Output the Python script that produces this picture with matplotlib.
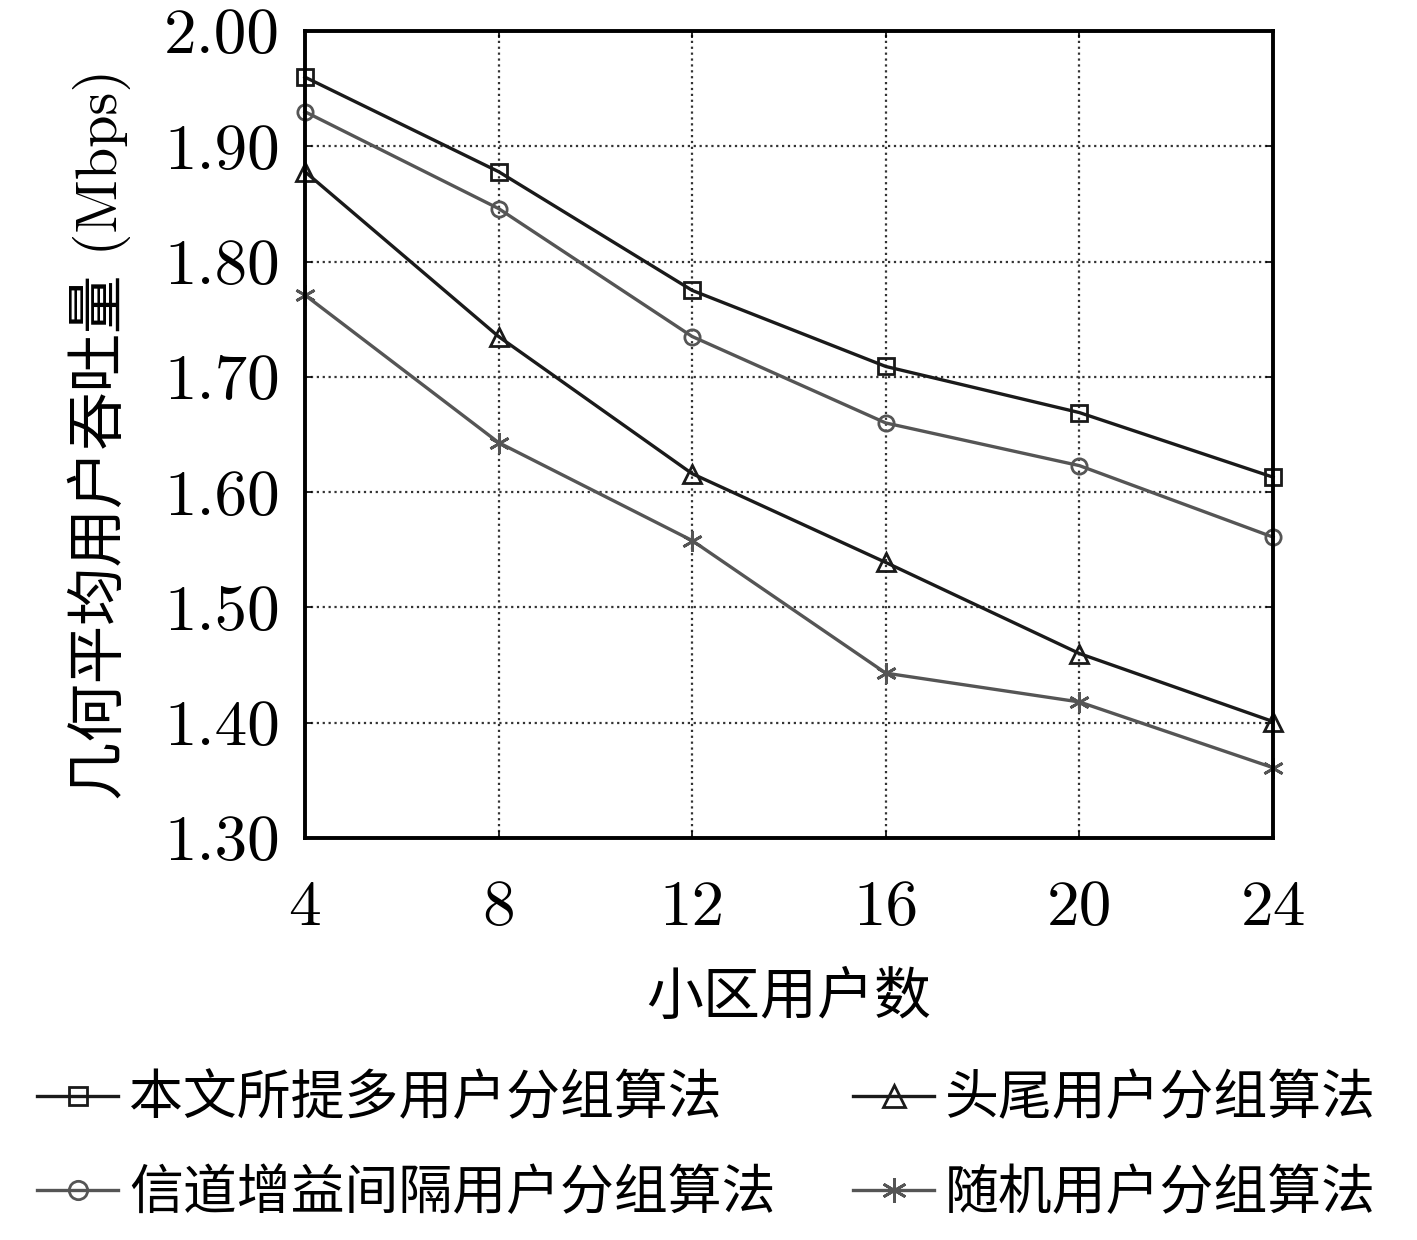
import matplotlib
matplotlib.use("Agg")
import matplotlib.pyplot as plt

plt.rcParams['font.family'] = ['cmr10', 'Noto Sans CJK SC', 'DejaVu Sans']
plt.rcParams['axes.formatter.use_mathtext'] = True

users = [4, 8, 12, 16, 20, 24]
proposed = [1.960, 1.878, 1.775, 1.709, 1.669, 1.613]
head_tail = [1.878, 1.735, 1.616, 1.539, 1.460, 1.401]
gain_gap = [1.930, 1.846, 1.735, 1.660, 1.623, 1.561]
random_grp = [1.771, 1.643, 1.558, 1.443, 1.418, 1.361]

labels = ['本文所提多用户分组算法', '头尾用户分组算法', '信道增益间隔用户分组算法', '随机用户分组算法']
yticks = [1.30, 1.40, 1.50, 1.60, 1.70, 1.80, 1.90, 2.00]

fig = plt.figure(figsize=(14.17, 12.40), dpi=100)
ax = fig.add_axes([0.2152, 0.3242, 0.6832, 0.6508])

dark = '#1a1a1a'
gray = '#555555'
lw = 2.4
l1, = ax.plot(users, proposed, color=dark, lw=lw, marker='s', ms=11, mfc='none', mew=2, clip_on=False)
l2, = ax.plot(users, head_tail, color=dark, lw=lw, marker='^', ms=13, mfc='none', mew=2, clip_on=False)
l3, = ax.plot(users, gain_gap, color=gray, lw=lw, marker='o', ms=11, mfc='none', mew=2, clip_on=False)
l4, = ax.plot(users, random_grp, color=gray, lw=lw, marker=(6, 2, 0), ms=15, mew=2, clip_on=False)

ax.set_xlim(4, 24)
ax.set_ylim(1.30, 2.00)
ax.set_xticks(users)
ax.set_yticks(yticks)
ax.set_yticklabels([f'{v:.2f}' for v in yticks])
ax.set_xticklabels([str(u) for u in users])
ax.tick_params(direction='in', length=5, width=1.2, labelsize=47, top=True, right=True)
ax.tick_params(axis='x', pad=30)
ax.tick_params(axis='y', pad=18)
for s in ax.spines.values():
    s.set_linewidth(2.8)
ax.grid(True, linestyle=':', color='#333333', linewidth=1.6)

ax.set_xlabel('小区用户数', fontsize=41, family=['Noto Sans CJK SC'], labelpad=22)
ax.set_ylabel('几何平均用户吞吐量 (Mbps)', fontsize=42, labelpad=24)

fig.legend([l1, l3, l2, l4], [labels[0], labels[2], labels[1], labels[3]],
           loc='lower left', bbox_to_anchor=(-0.008, -0.024), ncol=2,
           frameon=False, handlelength=1.5, handletextpad=0.2, markerscale=1.2,
           columnspacing=1.45, labelspacing=0.74, prop={'family': ['Noto Sans CJK SC'], 'size': 38.8})

fig.savefig('out.png', dpi=100, facecolor='white')
